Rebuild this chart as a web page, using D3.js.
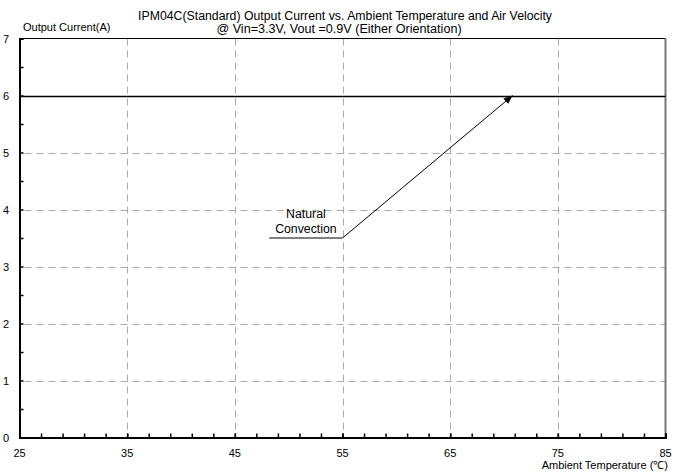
<!DOCTYPE html>
<html>
<head>
<meta charset="utf-8">
<script src="https://cdn.jsdelivr.net/npm/d3@7"></script>
<style>
  body { margin: 0; background: #fff; }
  text { font-family: Arial, "Liberation Sans", sans-serif; }
</style>
</head>
<body>
<svg id="chart" width="687" height="474"></svg>
<script>
// chart data
const titleLines = ["IPM04C(Standard) Output Current vs. Ambient Temperature and Air Velocity",
                    "@ Vin=3.3V, Vout =0.9V (Either Orientation)"];
const xTicks = [25, 35, 45, 55, 65, 75, 85];
const yTicks = [0, 1, 2, 3, 4, 5, 6, 7];
const temps = [25, 85];
const naturalConvection = [6, 6];
// annotation: leader start, elbow, arrow tip (data units)
const noteLeader = [[48.2, 3.5], [55, 3.5], [70.8, 6]];
const noteText = ["Natural", "Convection"];

const svg = d3.select("#chart");
const m = {left: 19.5, right: 665.5, top: 38.5, bottom: 437.5};

let x = d3.scaleLinear().domain([25, 85]).range([m.left, m.right]);
let y = d3.scaleLinear().domain([0, 7]).range([m.bottom, m.top]);

svg.append("defs").append("marker")
    .attr("id", "arr").attr("viewBox", "0 0 10 10")
    .attr("refX", 10).attr("refY", 5)
    .attr("markerWidth", 9).attr("markerHeight", 9)
    .attr("markerUnits", "userSpaceOnUse")
    .attr("orient", "auto")
  .append("path").attr("d", "M0,1 L10,5 L0,9 Z").attr("fill", "#000");

// dashed grid
svg.append("g").selectAll("line")
    .data(xTicks.slice(1, -1)).enter().append("line")
    .attr("x1", d => Math.round(x(d)) + 0.5).attr("x2", d => Math.round(x(d)) + 0.5)
    .attr("y1", m.top).attr("y2", m.bottom)
    .attr("stroke", "#aaa").attr("stroke-dasharray", "7,5");
svg.append("g").selectAll("line")
    .data(yTicks.slice(1, -1)).enter().append("line")
    .attr("y1", d => Math.round(y(d)) + 0.5).attr("y2", d => Math.round(y(d)) + 0.5)
    .attr("x1", m.left + 5).attr("x2", m.right)
    .attr("stroke", "#aaa").attr("stroke-dasharray", "7,5");

// frame
svg.append("line").attr("x1", m.left).attr("x2", m.right).attr("y1", m.top).attr("y2", m.top)
    .attr("stroke", "#000");
svg.append("line").attr("x1", m.right).attr("x2", m.right).attr("y1", m.top).attr("y2", m.bottom)
    .attr("stroke", "#777").attr("stroke-width", 2);

// axes with inward ticks
let xAxis = d3.axisTop(x).tickValues(d3.range(25, 86, 2).concat(xTicks)).tickSize(4).tickFormat("");
svg.append("g").attr("transform", `translate(0,${m.bottom})`).call(xAxis)
    .call(g => g.select(".domain").attr("stroke-width", 2))
    .call(g => g.selectAll(".tick line").attr("stroke-width", 1.5));
let yAxis = d3.axisRight(y).tickValues(d3.range(0, 7.01, 0.5)).tickSize(4).tickFormat("");
svg.append("g").attr("transform", `translate(${m.left},0)`).call(yAxis)
    .call(g => g.select(".domain").attr("stroke-width", 2))
    .call(g => g.selectAll(".tick line").attr("stroke-width", 1.5));

// tick labels
svg.append("g").selectAll("text").data(xTicks).enter().append("text")
    .attr("x", d => x(d)).attr("y", 457).attr("text-anchor", "middle")
    .attr("font-size", 11).text(d => d);
svg.append("g").selectAll("text").data(yTicks).enter().append("text")
    .attr("x", 6).attr("y", d => y(d) + 4).attr("text-anchor", "middle")
    .attr("font-size", 11).text(d => d);

// titles and axis names
svg.append("g").selectAll("text").data(titleLines).enter().append("text")
    .attr("x", (d, i) => i ? 339 : 345).attr("y", (d, i) => 20 + i * 13).attr("text-anchor", "middle")
    .attr("font-size", (d, i) => i ? 12.6 : 12.3).text(d => d);
svg.append("text").attr("x", 23).attr("y", 31).attr("font-size", 11).text("Output Current(A)");
svg.append("text").attr("x", 668).attr("y", 469).attr("text-anchor", "end")
    .attr("font-size", 11).text("Ambient Temperature (\u2103)");

// data line
let line = d3.line().x(d => x(d[0])).y(d => Math.round(y(d[1])) + 0.5);
svg.append("path").datum(d3.zip(temps, naturalConvection)).attr("d", line)
    .attr("fill", "none").attr("stroke", "#000").attr("stroke-width", 1.3);

// annotation
svg.append("path").datum(noteLeader)
    .attr("d", d3.line().x(d => x(d[0])).y(d => y(d[1])))
    .attr("fill", "none").attr("stroke", "#000").attr("stroke-width", 1)
    .attr("marker-end", "url(#arr)");
svg.append("g").selectAll("text").data(noteText).enter().append("text")
    .attr("x", x(51.6)).attr("y", (d, i) => y(3.5) - 20 + i * 15)
    .attr("text-anchor", "middle").attr("font-size", 12.3).text(d => d);
</script>
</body>
</html>
